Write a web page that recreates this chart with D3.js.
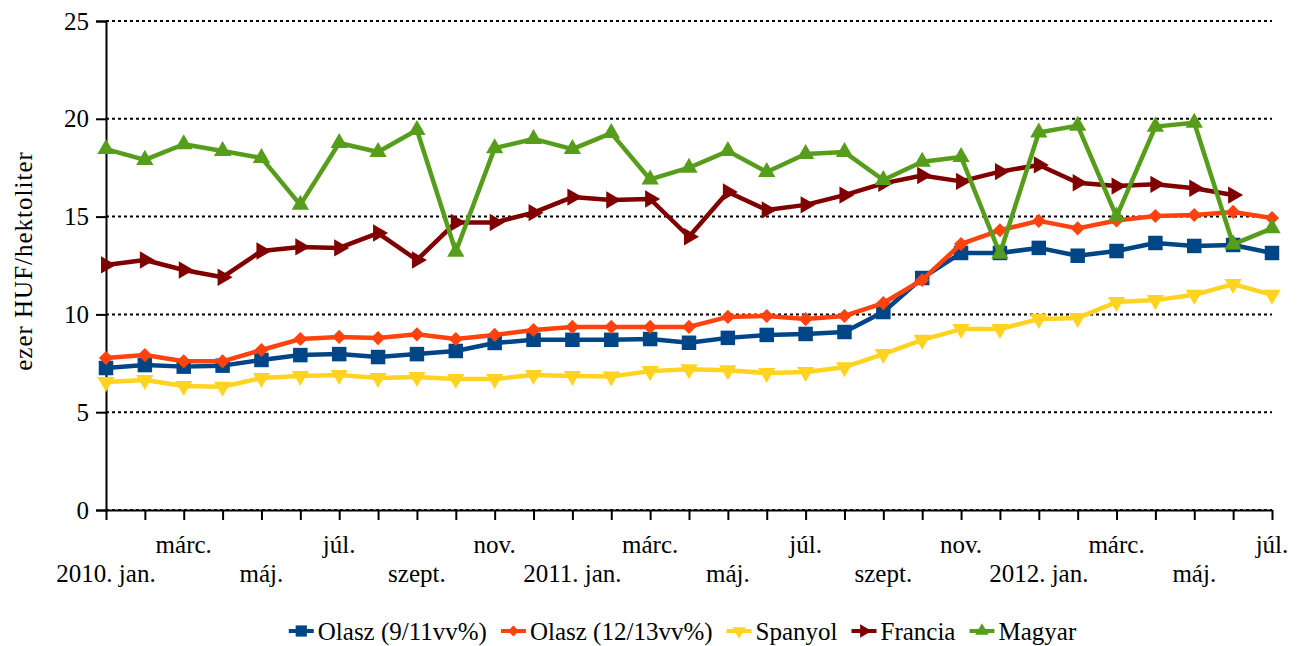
<!DOCTYPE html>
<html>
<head>
<meta charset="utf-8">
<script src="https://cdn.jsdelivr.net/npm/d3@7"></script>
</head>
<body style="margin:0">
<div id="chart"></div>
<script>
// month categories 2010 jan .. 2012 júl
var months = ["2010. jan.", "febr.", "márc.", "ápr.", "máj.", "jún.", "júl.", "aug.", "szept.", "okt.", "nov.", "dec.",
  "2011. jan.", "febr.", "márc.", "ápr.", "máj.", "jún.", "júl.", "aug.", "szept.", "okt.", "nov.", "dec.",
  "2012. jan.", "febr.", "márc.", "ápr.", "máj.", "jún.", "júl."];

var seriesNames = ["Olasz (9/11vv%)", "Olasz (12/13vv%)", "Spanyol", "Francia", "Magyar"];

var olasz911 = [7.26, 7.41, 7.33, 7.38, 7.67, 7.92, 7.97, 7.82, 7.97, 8.13, 8.54, 8.7, 8.7, 8.7, 8.74, 8.55,
  8.8, 8.95, 9.0, 9.1, 10.12, 11.86, 13.14, 13.14, 13.4, 13.0, 13.24, 13.65, 13.5, 13.55, 13.14];
var olasz1213 = [7.77, 7.92, 7.6, 7.6, 8.18, 8.74, 8.85, 8.79, 8.98, 8.74, 8.95, 9.2, 9.36, 9.36, 9.36, 9.36,
  9.87, 9.92, 9.76, 9.92, 10.58, 11.76, 13.6, 14.3, 14.78, 14.4, 14.8, 15.03, 15.08, 15.24, 14.93];
var spanyol = [6.54, 6.65, 6.34, 6.3, 6.75, 6.85, 6.9, 6.75, 6.8, 6.7, 6.7, 6.9, 6.85, 6.82, 7.1, 7.2,
  7.15, 7.0, 7.05, 7.3, 7.97, 8.7, 9.25, 9.25, 9.76, 9.82, 10.63, 10.73, 11.0, 11.55, 11.0];
var francia = [12.53, 12.78, 12.27, 11.9, 13.24, 13.45, 13.4, 14.16, 12.78, 14.7, 14.7, 15.2, 16.0, 15.85, 15.9, 13.97,
  16.26, 15.34, 15.6, 16.1, 16.7, 17.1, 16.8, 17.3, 17.64, 16.73, 16.56, 16.65, 16.45, 16.1, null];
var magyar = [18.45, 17.9, 18.7, 18.35, 18.0, 15.6, 18.76, 18.3, 19.43, 13.2, 18.5, 18.97, 18.45, 19.27, 16.9, 17.5,
  18.35, 17.28, 18.2, 18.3, 16.87, 17.8, 18.05, 13.1, 19.3, 19.65, 15.0, 19.6, 19.8, 13.58, 14.4];

var yTicks = [0, 5, 10, 15, 20, 25];

var svgWidth = 1297;
var svgHeight = 646;
var margin = { top: 21, right: 25, bottom: 136, left: 106 };
var width = svgWidth - margin.left - margin.right;
var height = svgHeight - margin.top - margin.bottom;
var fontName = "Liberation Serif";

var colors = ["#004586", "#ff420e", "#ffd320", "#800000", "#579d1c"];
// marker shape + rotation for each series
var markers = [
  { type: d3.symbolSquare, size: 210, rotate: 0 },
  { type: d3.symbolSquare, size: 100, rotate: 45 },
  { type: d3.symbolTriangle, size: 130, rotate: 180 },
  { type: d3.symbolTriangle, size: 130, rotate: 90 },
  { type: d3.symbolTriangle, size: 130, rotate: 0 }
];

var allSeries = [olasz911, olasz1213, spanyol, francia, magyar];

var svg = d3.select("#chart")
  .append("svg")
  .attr("width", svgWidth)
  .attr("height", svgHeight)
  .attr("font-family", fontName);

var chartGroup = svg.append("g")
  .attr("transform", `translate(${margin.left}, ${margin.top})`);

var xScale = d3.scalePoint()
  .domain(d3.range(months.length))
  .range([0, width]);

var yScale = d3.scaleLinear()
  .domain([0, 25])
  .range([height, 0]);

// dotted gridlines
chartGroup.append("g")
  .selectAll("line")
  .data(yTicks)
  .enter()
  .append("line")
  .attr("x1", 0)
  .attr("x2", width)
  .attr("y1", d => yScale(d))
  .attr("y2", d => yScale(d))
  .attr("stroke", "#000")
  .attr("stroke-width", 2)
  .attr("stroke-dasharray", "3,3");

// y axis
var leftAxis = d3.axisLeft(yScale)
  .tickValues(yTicks)
  .tickSize(10)
  .tickPadding(7);

var yAxis = chartGroup.append("g")
  .call(leftAxis)
  .attr("font-family", fontName)
  .attr("font-size", 25);
yAxis.select(".domain").attr("stroke-width", 2);
yAxis.selectAll(".tick line").attr("stroke-width", 2);

// x axis, ticks every month, labels every two months on alternating rows
var bottomAxis = d3.axisBottom(xScale)
  .tickSize(10)
  .tickSizeOuter(0)
  .tickFormat("");

var xAxis = chartGroup.append("g")
  .attr("transform", `translate(0, ${height})`)
  .call(bottomAxis);
xAxis.select(".domain").attr("stroke-width", 2);
xAxis.selectAll(".tick line").attr("stroke-width", 2);

chartGroup.append("g")
  .selectAll("text")
  .data(d3.range(0, months.length, 2))
  .enter()
  .append("text")
  .attr("x", d => xScale(d))
  .attr("y", d => (d % 4 === 0) ? height + 72 : height + 43)
  .attr("text-anchor", "middle")
  .attr("font-family", fontName)
  .attr("font-size", 25)
  .text(d => months[d]);

// y axis title
svg.append("text")
  .attr("transform", "translate(32, 261) rotate(-90)")
  .attr("text-anchor", "middle")
  .attr("font-family", fontName)
  .attr("font-size", 25)
  .attr("letter-spacing", 1)
  .text("ezer HUF/hektoliter");

// lines and markers
allSeries.forEach(function (values, i) {
  var pts = values.map((v, j) => ({ i: j, v: v })).filter(d => d.v !== null);

  var line = d3.line()
    .x(d => xScale(d.i))
    .y(d => yScale(d.v));

  chartGroup.append("path")
    .datum(pts)
    .attr("d", line)
    .attr("fill", "none")
    .attr("stroke", colors[i])
    .attr("stroke-width", 4.5)
    .attr("stroke-linejoin", "round");

  chartGroup.append("g")
    .selectAll("path")
    .data(pts)
    .enter()
    .append("path")
    .attr("d", d3.symbol().type(markers[i].type).size(markers[i].size))
    .attr("transform", d => `translate(${xScale(d.i)}, ${yScale(d.v)}) rotate(${markers[i].rotate})`)
    .attr("fill", colors[i]);
});

// legend
var legend = svg.append("g");
var lx = 0;
seriesNames.forEach(function (name, i) {
  var item = legend.append("g").attr("transform", `translate(${lx}, 0)`);
  item.append("line")
    .attr("x1", 0).attr("x2", 25)
    .attr("stroke", colors[i])
    .attr("stroke-width", 4);
  item.append("path")
    .attr("d", d3.symbol().type(markers[i].type).size(markers[i].size * 0.6))
    .attr("transform", `translate(12.5, 0) rotate(${markers[i].rotate})`)
    .attr("fill", colors[i]);
  var t = item.append("text")
    .attr("x", 29)
    .attr("y", 0)
    .attr("dy", "0.35em")
    .attr("font-family", fontName)
    .attr("font-size", 25)
    .text(name);
  lx += 29 + t.node().getComputedTextLength() + 14;
});
lx -= 14;
legend.attr("transform", `translate(${(283 + 1082) / 2 - lx / 2}, 631)`);
</script>
</body>
</html>
